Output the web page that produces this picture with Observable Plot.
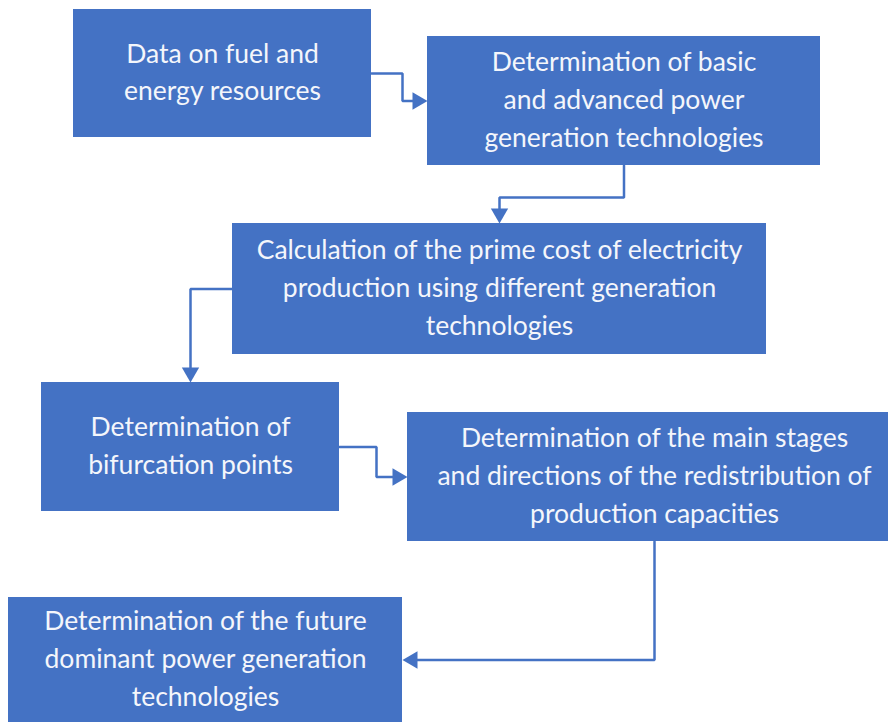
<!DOCTYPE html>
<html>
<head>
<meta charset="utf-8">
<script src="https://cdn.jsdelivr.net/npm/d3@7"></script>
<script src="https://cdn.jsdelivr.net/npm/@observablehq/plot@0.6"></script>
<style>
  html, body { margin: 0; padding: 0; background: #ffffff; overflow: hidden; }
  #chart svg { display: block; }
</style>
</head>
<body>
<div id="chart"></div>
<script>
// Flowchart steps (text) and their box extents (diagram geometry, in px-like units)
const boxLabels = [
  "Data on fuel and\nenergy resources",
  "Determination of basic\nand advanced power\ngeneration technologies",
  "Calculation of the prime cost of electricity\nproduction using different generation\ntechnologies",
  "Determination of\nbifurcation points",
  "Determination of the main stages\nand directions of the redistribution of\nproduction capacities",
  "Determination of the future\ndominant power generation\ntechnologies"
];
const boxLeft   = [73, 427, 232, 41, 407, 8];
const boxRight  = [371, 820, 766, 339, 901, 402];
const boxTop    = [9, 36, 223, 382, 412, 597];
const boxBottom = [137, 165, 354, 511, 541, 722];

// Connections between steps: source index, target index, routing
const linkFrom  = [0, 1, 2, 3, 4];
const linkTo    = [1, 2, 3, 4, 5];
const linkRoute = ["hvh", "vhv", "hv", "hvh", "vh"];

const W = 888, H = 722;
const blue = "#4472C4";

const boxes = boxLabels.map((label, i) => ({
  label,
  x1: boxLeft[i], x2: boxRight[i], y1: boxTop[i], y2: boxBottom[i],
  cx: (boxLeft[i] + boxRight[i]) / 2,
  cy: (boxTop[i] + boxBottom[i]) / 2
}));

const headLen = 15;
const linePts = [];
const heads = [];
linkFrom.forEach((f, k) => {
  const s = boxes[f], t = boxes[linkTo[k]];
  let pts;
  switch (linkRoute[k]) {
    case "hvh": {
      const m = (s.x2 + t.x1) / 2 + 3;
      pts = [[s.x2, s.cy], [m, s.cy], [m, t.cy], [t.x1, t.cy]];
      break;
    }
    case "vhv": {
      const m = (s.y2 + t.y1) / 2 + 3;
      pts = [[s.cx, s.y2], [s.cx, m], [t.cx, m], [t.cx, t.y1]];
      break;
    }
    case "hv":
      pts = [[s.x1, s.cy], [t.cx, s.cy], [t.cx, t.y1]];
      break;
    case "vh":
      pts = [[s.cx, s.y2], [s.cx, t.cy], [t.x2, t.cy]];
      break;
  }
  const [ax, ay] = pts[pts.length - 2];
  const [bx, by] = pts[pts.length - 1];
  const dx = Math.sign(bx - ax), dy = Math.sign(by - ay);
  // shorten last segment so the line ends inside the arrowhead
  const trimmed = pts.slice(0, -1).concat([[bx - dx * (headLen - 2), by - dy * (headLen - 2)]]);
  trimmed.forEach(([x, y]) => linePts.push({id: k, x, y}));
  // triangle centroid sits 2/3 of the head length back from the tip
  const rot = dx > 0 ? 90 : dx < 0 ? 270 : dy > 0 ? 180 : 0;
  heads.push({x: bx - dx * headLen * 2 / 3, y: by - dy * headLen * 2 / 3, rot});
});

// d3.symbolTriangle: height = 3*sqrt(size/(3*sqrt3)); choose size for headLen
const yy = headLen / 3;
const triSize = 3 * Math.sqrt(3) * yy * yy;
const triR = Math.sqrt(triSize / Math.PI);

const fs = 26.5;
const chart = Plot.plot({
  width: W,
  height: H,
  margin: 0,
  x: {axis: null, domain: [0, W]},
  y: {axis: null, domain: [0, H], reverse: true},
  style: {background: "#ffffff", fontFamily: "Lato, 'Open Sans', sans-serif"},
  marks: [
    Plot.rect(boxes, {x1: "x1", x2: "x2", y1: "y1", y2: "y2", fill: blue, clip: true}),
    Plot.line(linePts, {x: "x", y: "y", z: "id", stroke: blue, strokeWidth: 2.5, curve: "linear", strokeLinejoin: "miter"}),
    Plot.dot(heads, {x: "x", y: "y", symbol: "triangle", r: triR, fill: blue, stroke: "none", rotate: "rot"}),
    Plot.text(boxes, {
      x: "cx", y: "cy", text: "label", dy: -4,
      fill: "#f4f6fb", fontSize: fs, lineHeight: 37.8 / fs,
      textAnchor: "middle", lineAnchor: "middle",
      fontFamily: "Lato, 'Open Sans', sans-serif"
    })
  ]
});
document.getElementById("chart").appendChild(chart);
</script>
</body>
</html>
